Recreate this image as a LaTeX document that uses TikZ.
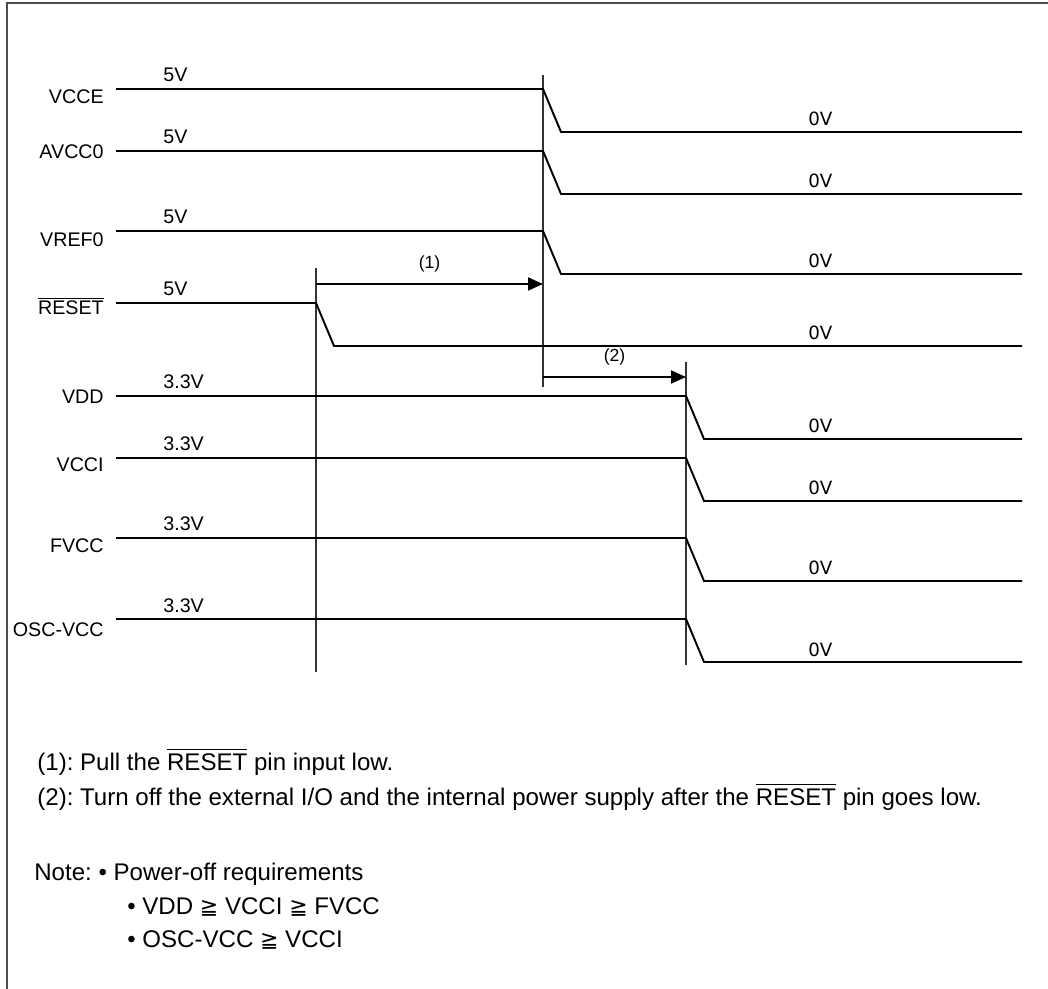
\documentclass[tikz,border=0pt]{standalone}
\usepackage{amsmath,amssymb}
\usepackage{fontspec}
\setmainfont{Liberation Sans}
\newfontfamily\zerofont{DejaVu Sans}
\usepackage{tikz}
\usetikzlibrary{positioning,arrows.meta}
\usepackage{xcolor}
\frenchspacing
\newcommand{\geqqs}{{\zerofont\fontsize{12.5}{16}\selectfont ≧}}

\begin{document}
\begin{tikzpicture}[x=0.02cm,y=-0.02cm,>={Triangle[length=3mm,width=2.6mm]},
  wave/.style={line width=1.1pt,line join=miter},
  mark line/.style={line width=0.8pt,draw=black!80},
  sig/.style={anchor=base east,inner sep=0pt,font=\fontsize{11.2}{13}\selectfont},
  lvl/.style={anchor=base west,inner sep=0pt,font=\fontsize{11.2}{13}\selectfont},
  zero/.style={anchor=base west,inner sep=0pt,font=\zerofont\fontsize{10.4}{12}\selectfont},
  note/.style={anchor=base west,inner sep=0pt,font=\fontsize{13.7}{16}\selectfont}]
\useasboundingbox (0,0) rectangle (1048,989);
\draw[line width=1.1pt,draw=black!70] (7,989) -- (7,3) -- (1048,3);

% event lines
\coordinate (t1top) at (316,268); \coordinate (t1bot) at (316,672);
\coordinate (t2top) at (543,75);  \coordinate (t2bot) at (543,387);
\coordinate (t3top) at (686,362); \coordinate (t3bot) at (686,665);
\foreach \t in {t1,t2,t3} \draw[mark line] (\t top) -- (\t bot);

% waveforms: name/label/high y/fall x/level/label offset
\foreach \nm/\lbl/\yh/\xf/\hv/\off in {vcce/VCCE/89/543/5V/15, avcc/AVCC0/151/543/5V/8,
    vref/VREF0/231/543/5V/16, reset/{$\overline{\mbox{RESET}}$}/303/316/5V/12,
    vdd/VDD/396/686/3.3V/8, vcci/VCCI/458/686/3.3V/14,
    fvcc/FVCC/538/686/3.3V/15, osc/OSC-VCC/619/686/3.3V/17}{
  \node[sig] (\nm) at (104,\yh+\off) {\lbl};
  \node[lvl] (\nm hi) at (163,\yh-7) {\hv};
  \node[zero] (\nm lo) at (808,\yh+37) {0V};
  \draw[wave] (116,\yh) -- (\xf,\yh) -- (\xf+18,\yh+43) -- (1022,\yh+43);
}

% timing arrows
\coordinate (a1s) at (316,284); \coordinate (a1e) at (543,284);
\coordinate (a2s) at (543,377); \coordinate (a2e) at (686,377);
\draw[->,line width=1.1pt] (a1s) -- (a1e) node[midway,above=3pt,font=\fontsize{10}{12}\selectfont] (d1) {(1)};
\draw[->,line width=1.1pt] (a2s) -- (a2e) node[midway,above=3pt,font=\fontsize{10}{12}\selectfont] (d2) {(2)};

% notes
\node[note] (n1) at (37,770) {(1): Pull the $\overline{\mbox{RESET}}$ pin input low.};
\node[note] (n2) at (37,805) {(2): Turn off the external I/O and the internal power supply after the $\overline{\mbox{RESET}}$ pin goes low.};
\node[note] (n3) at (34,880) {Note: \textbullet\ Power-off requirements};
\node[note] (n4) at (127,914) {\textbullet\ VDD \geqqs\ VCCI \geqqs\ FVCC};
\node[note] (n5) at (127,947) {\textbullet\ OSC-VCC \geqqs\ VCCI};
\end{tikzpicture}
\end{document}
